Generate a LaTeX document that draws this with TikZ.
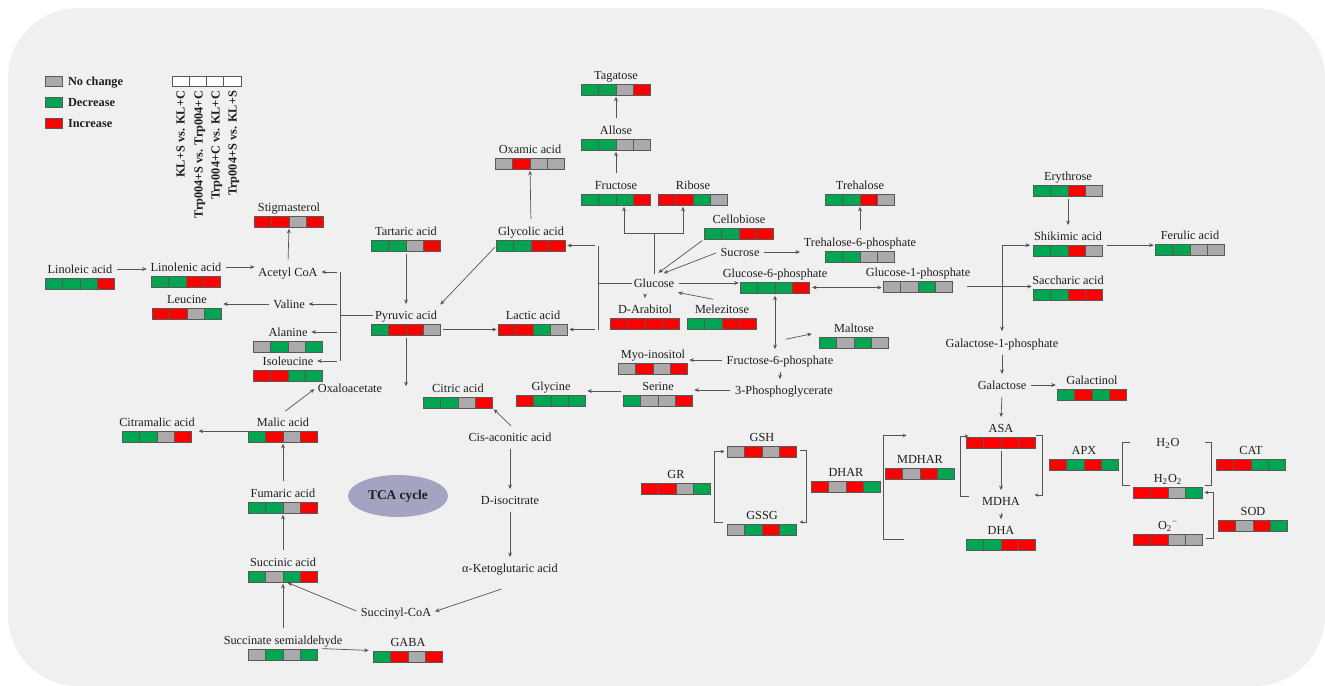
\documentclass[tikz,border=0pt]{standalone}
\usepackage{fontspec}
\setmainfont{Liberation Serif}
\usetikzlibrary{arrows.meta,calc,shapes.geometric}

\definecolor{bgc}{RGB}{240,240,240}
\definecolor{inc}{RGB}{255,0,0}
\definecolor{dec}{RGB}{0,166,81}
\definecolor{nch}{RGB}{170,170,170}
\definecolor{linec}{RGB}{85,85,85}
\definecolor{txt}{RGB}{30,30,30}
\definecolor{tcac}{RGB}{163,163,194}

\tikzset{
  lbl/.style={font=\fontsize{7}{8}\selectfont, text=txt, inner sep=1pt, text height=1.45ex, text depth=.3ex},
  legtxt/.style={lbl, font=\fontsize{7}{8}\selectfont\bfseries},
  hdr/.style={legtxt, rotate=90, anchor=east},
  cbar/.style={minimum width=1.38cm, minimum height=0.22cm, inner sep=0pt, outer sep=0pt},
  cell/.style={draw=black!65, line width=0.45pt},
  link/.style={draw=linec, line width=0.4pt},
  conn/.style={link, -{Stealth[length=2.6pt,width=2.2pt]}, shorten <=1.5pt, shorten >=1pt},
  biconn/.style={conn, {Stealth[length=2.6pt,width=2.2pt]}-{Stealth[length=2.6pt,width=2.2pt]}},
  brk/.style={link, -{Stealth[length=2.2pt,width=2pt]}},
  tca/.style={ellipse, fill=tcac, minimum width=2cm, minimum height=0.84cm, inner sep=0pt,
    font=\fontsize{7.6}{9}\selectfont\bfseries, text=txt},
}

% metabolita: nome, posizione, etichetta, colori delle 4 caselle
\newcommand{\metab}[4]{%
  \node[lbl] (#1) at (#2) {#3};
  \node[cbar] (#1-b) at ($(#1)+(0,14.5)$) {};
  \foreach \c [count=\i] in {#4}
    \filldraw[cell, fill=\c] ($(#1-b.north west)+({(\i-1)*17.25},0)$) rectangle ++(17.25,11);
}

\begin{document}
\begin{tikzpicture}[x=0.02cm, y=-0.02cm]
    \useasboundingbox (0,0) rectangle (1325,686);
    \fill[bgc, rounded corners=40pt] (8,8) rectangle (1325,686);

    % Legenda
    \filldraw[cell, fill=nch] (45,76) rectangle (62,86);
    \filldraw[cell, fill=dec] (45,97) rectangle (62,107);
    \filldraw[cell, fill=inc] (45,118) rectangle (62,128);
    \node[legtxt, anchor=west] (lnc) at (66,81) {No change};
    \node[legtxt, anchor=west] (ldec) at (66,102) {Decrease};
    \node[legtxt, anchor=west] (linc) at (66,123) {Increase};
    \foreach \i in {0,...,3}
        \filldraw[cell, fill=white] ({172+\i*17.25},76) rectangle ++(17.25,10);
    \node[hdr] (h1) at (180,89) {KL+S vs. KL+C};
    \node[hdr] (h2) at (198,89) {Trp004+S vs. Trp004+C};
    \node[hdr] (h3) at (215,89) {Trp004+C vs. KL+C};
    \node[hdr] (h4) at (232,89) {Trp004+S vs. KL+S};

    % Metaboliti
    \metab{linoleic}{80,269}{Linoleic acid}{dec,dec,dec,inc}
    \metab{linolenic}{186,267}{Linolenic acid}{dec,dec,inc,inc}
    \metab{stigma}{289,207}{Stigmasterol}{inc,inc,nch,inc}
    \metab{leucine}{187,299}{Leucine}{inc,inc,nch,dec}
    \metab{alanine}{288,332}{Alanine}{nch,dec,nch,dec}
    \metab{isoleu}{288,361}{Isoleucine}{inc,inc,dec,dec}
    \metab{tartaric}{406,231}{Tartaric acid}{dec,dec,nch,inc}
    \metab{pyruvic}{406,315}{Pyruvic acid}{dec,inc,inc,nch}
    \metab{glycolic}{531,231}{Glycolic acid}{dec,dec,inc,inc}
    \metab{oxamic}{530,149}{Oxamic acid}{nch,inc,nch,nch}
    \metab{lactic}{533,315}{Lactic acid}{inc,inc,dec,nch}
    \metab{tagatose}{616,75}{Tagatose}{dec,dec,nch,inc}
    \metab{allose}{616,130}{Allose}{dec,dec,nch,nch}
    \metab{fructose}{616,185}{Fructose}{dec,dec,dec,inc}
    \metab{ribose}{693,185}{Ribose}{inc,inc,dec,nch}
    \metab{cellobiose}{739,219}{Cellobiose}{dec,dec,inc,inc}
    \metab{trehalose}{860,185}{Trehalose}{dec,dec,inc,nch}
    \metab{t6p}{860,242}{Trehalose-6-phosphate}{dec,dec,nch,nch}
    \metab{g6p}{775,273}{Glucose-6-phosphate}{dec,dec,dec,inc}
    \metab{g1p}{918,272}{Glucose-1-phosphate}{nch,nch,dec,nch}
    \metab{arabitol}{645,309}{D-Arabitol}{inc,inc,inc,inc}
    \metab{melezitose}{722,309}{Melezitose}{dec,dec,inc,inc}
    \metab{maltose}{854,328}{Maltose}{dec,nch,dec,nch}
    \metab{myo}{653,354}{Myo-inositol}{nch,inc,nch,inc}
    \metab{serine}{658,386}{Serine}{dec,nch,nch,inc}
    \metab{glycine}{551,386}{Glycine}{inc,dec,dec,dec}
    \metab{citric}{458,388}{Citric acid}{dec,dec,nch,inc}
    \metab{malic}{283,422}{Malic acid}{dec,inc,nch,inc}
    \metab{citramalic}{157,422}{Citramalic acid}{dec,dec,nch,inc}
    \metab{fumaric}{283,493}{Fumaric acid}{dec,dec,nch,inc}
    \metab{succinic}{283,562}{Succinic acid}{dec,nch,dec,inc}
    \metab{ssa}{283,640}{Succinate semialdehyde}{nch,dec,nch,dec}
    \metab{gaba}{408,642}{GABA}{dec,inc,nch,inc}
    \metab{erythrose}{1068,176}{Erythrose}{dec,dec,inc,nch}
    \metab{shikimic}{1068,236}{Shikimic acid}{dec,dec,inc,nch}
    \metab{ferulic}{1190,235}{Ferulic acid}{dec,dec,nch,nch}
    \metab{saccharic}{1068,280}{Saccharic acid}{dec,dec,inc,inc}
    \metab{galactinol}{1092,380}{Galactinol}{dec,inc,dec,inc}
    \metab{asa}{1001,428}{ASA}{inc,inc,inc,inc}
    \metab{dha}{1001,530}{DHA}{dec,dec,inc,inc}
    \metab{mdhar}{920,459}{MDHAR}{inc,nch,inc,dec}
    \metab{dhar}{846,472}{DHAR}{inc,nch,inc,dec}
    \metab{gsh}{762,437}{GSH}{nch,inc,nch,inc}
    \metab{gssg}{762,515}{GSSG}{nch,dec,inc,dec}
    \metab{gr}{676,474}{GR}{inc,inc,nch,dec}
    \metab{apx}{1084,450}{APX}{inc,dec,inc,dec}
    \metab{h2o2}{1168,478}{H\textsubscript{2}O\textsubscript{2}}{inc,inc,nch,dec}
    \metab{o2}{1168,525}{O\textsubscript{2}\textsuperscript{−}}{inc,inc,nch,nch}
    \metab{cat}{1251,450}{CAT}{inc,inc,dec,dec}
    \metab{sod}{1253,511}{SOD}{inc,nch,inc,dec}

    % Solo testo
    \node[lbl] (acetyl) at (288,272) {Acetyl CoA};
    \node[lbl] (valine) at (289,304) {Valine};
    \node[lbl] (sucrose) at (740,252) {Sucrose};
    \node[lbl] (glucose) at (654,283) {Glucose};
    \node[lbl] (f6p) at (780,360) {Fructose-6-phosphate};
    \node[lbl] (pga) at (784,390) {3-Phosphoglycerate};
    \node[lbl] (oxalo) at (350,388) {Oxaloacetate};
    \node[lbl] (cis) at (510,437) {Cis-aconitic acid};
    \node[lbl] (isocit) at (510,500) {D-isocitrate};
    \node[lbl] (akg) at (510,568) {α-Ketoglutaric acid};
    \node[lbl] (succoa) at (396,612) {Succinyl-CoA};
    \node[lbl] (gal1p) at (1002,343) {Galactose-1-phosphate};
    \node[lbl] (galactose) at (1002,385) {Galactose};
    \node[lbl] (mdha) at (1001,501) {MDHA};
    \node[lbl] (h2o) at (1168,442) {H\textsubscript{2}O};
    \node[tca] (tcacyc) at (398,496) {TCA cycle};

    % Acidi grassi e amminoacidi
    \draw[conn] (linoleic.east) -- (linoleic.east -| linolenic.west);
    \draw[conn] (linolenic.east) -- (linolenic.east -| acetyl.west);
    \draw[conn] (acetyl.north) -- (stigma-b.south);
    \coordinate (aj) at (340,318);
    \draw[link] (pyruvic.west) -- (pyruvic.west -| aj);
    \draw[link] (acetyl.east -| aj) -- (isoleu.east -| aj);
    \foreach \n in {acetyl,valine,alanine,isoleu}
        \draw[conn] (\n.east -| aj) -- (\n.east);
    \draw[conn] (valine.west) -- (valine.west -| leucine-b.east);

    % Piruvato
    \draw[conn] (tartaric-b.south) -- (pyruvic.north);
    \draw[conn] (glycolic-b.west) -- (pyruvic.north east);
    \draw[conn] (glycolic.north) -- (oxamic-b.south);
    \draw[conn] (pyruvic-b.east) -- (lactic-b.west);
    \draw[conn] (pyruvic-b.south) -- (pyruvic-b.south |- citric.west);

    % Glucosio
    \coordinate (gj) at (598,283);
    \draw[link] (glucose.west) -- (glucose.west -| gj);
    \draw[link] (glycolic-b.east -| gj) -- (lactic-b.east -| gj);
    \draw[conn] (glycolic-b.east -| gj) -- (glycolic-b.east);
    \draw[conn] (lactic-b.east -| gj) -- (lactic-b.east);
    \coordinate (gu) at (654,233);
    \draw[link] (glucose.north) -- (glucose.north |- gu);
    \draw[conn, shorten <=0pt] (glucose.north |- gu) -| ($(fructose-b.south)+(8,0)$);
    \draw[conn, shorten <=0pt] (glucose.north |- gu) -| ($(ribose-b.south)+(-10,0)$);
    \draw[conn] (fructose.north) -- (allose-b.south);
    \draw[conn] (allose.north) -- (tagatose-b.south);
    \draw[conn] (cellobiose-b.south west) -- ($(glucose.north)+(3,0)$);
    \draw[conn] (sucrose.west) -- ($(glucose.north)+(8,0)$);
    \draw[conn] (sucrose.east) -- (sucrose.east -| t6p.west);
    \draw[conn] (t6p.north) -- (trehalose-b.south);
    \draw[conn] (glucose.east) -- (glucose.east -| g6p-b.west);
    \draw[conn] (glucose.south -| arabitol.north) -- (arabitol.north);
    \draw[conn] ($(melezitose.north)+(-6,0)$) -- (glucose.south east);
    \draw[biconn] (g6p-b.east) -- (g6p-b.east -| g1p-b.west);
    \draw[biconn] (g6p-b.south) -- (g6p-b.south |- f6p.north);
    \draw[conn] ($(f6p.north)+(3,-11)$) -- ($(maltose-b.west)+(-6,-9)$);
    \draw[conn] (f6p.west) -- (f6p.west -| myo-b.east);
    \draw[conn] (f6p.south) -- (f6p.south |- pga.north);
    \draw[conn] (pga.west) -- (pga.west -| serine-b.east);
    \draw[conn] ($(serine-b.north west)+(0,-4)$) -- ($(glycine-b.north east)+(0,-4)$);

    % Ciclo TCA
    \draw[conn] ($(cis.north)+(3,0)$) -- (citric-b.south east);
    \draw[conn] (cis.south) -- (isocit.north);
    \draw[conn] (isocit.south) -- (akg.north);
    \draw[conn] ($(akg.south)+(-6,11)$) -- (succoa.east);
    \draw[conn] (succoa.west) -- ($(succinic-b.south)+(3,0)$);
    \draw[conn] (ssa.north) -- (succinic-b.south);
    \draw[conn] ($(ssa-b.east)+(2,-6)$) -- ($(gaba-b.west)+(-3,-6)$);
    \draw[conn] (succinic.north) -- (fumaric-b.south);
    \draw[conn] (fumaric.north) -- (malic-b.south);
    \draw[conn] (malic.south west) -- (malic.south west -| citramalic.east);
    \draw[conn] (malic.north) -- (oxalo.west);

    % Shikimato e galattosio
    \draw[conn] (erythrose-b.south) -- (shikimic.north);
    \draw[conn] (shikimic.south east) -- (shikimic.south east -| ferulic-b.west);
    \draw[conn] (g1p-b.east) ++(12,0) -- (g1p-b.east -| saccharic-b.west);
    \draw[biconn] (gal1p.north) |- (shikimic.south west);
    \draw[conn] (gal1p.south) -- (galactose.north);
    \draw[conn] (galactose.east) -- (galactose.east -| galactinol-b.west);
    \draw[conn] (galactose.south) -- (asa.north);
    \draw[conn] (asa-b.south) -- (mdha.north);
    \draw[conn] (mdha.south) -- (dha.north);

    % Parentesi (ascorbato-glutatione)
    \draw[brk] ($(asa-b.north west)+(2,59)$) -- ++(-8,0) -- ++(0,-60) -- ++(8,0);
    \draw[brk] ($(asa-b.north east)+(0,-2)$) -- ++(7,0) -- ++(0,60) -- ++(-8,0);
    \draw[brk] ($(mdhar-b.west)+(18,66)$) -- ++(-20,0) -- ++(0,-104) -- ++(23,0);
    \draw[brk] ($(gssg-b.north west)+(-5,-2)$) -- ++(-8,0) |- ($(gsh-b.west)+(-3,0)$);
    \draw[brk] ($(gsh-b.east)+(3,-1)$) -- ++(7,0) |- ($(gssg-b.north east)+(3,-2)$);
    \draw[link] ($(h2o2-b.north west)+(-4,-2)$) -- ++(-7,0) -- ++(0,-43) -- ++(7,0);
    \draw[link] ($(h2o2-b.north east)+(2,-2)$) -- ++(7,0) -- ++(0,-43) -- ++(-7,0);
    \draw[brk] ($(o2-b.east)+(3,-1)$) -- ++(8,0) |- ($(h2o2-b.east)+(2,0)$);
\end{tikzpicture}
\end{document}
